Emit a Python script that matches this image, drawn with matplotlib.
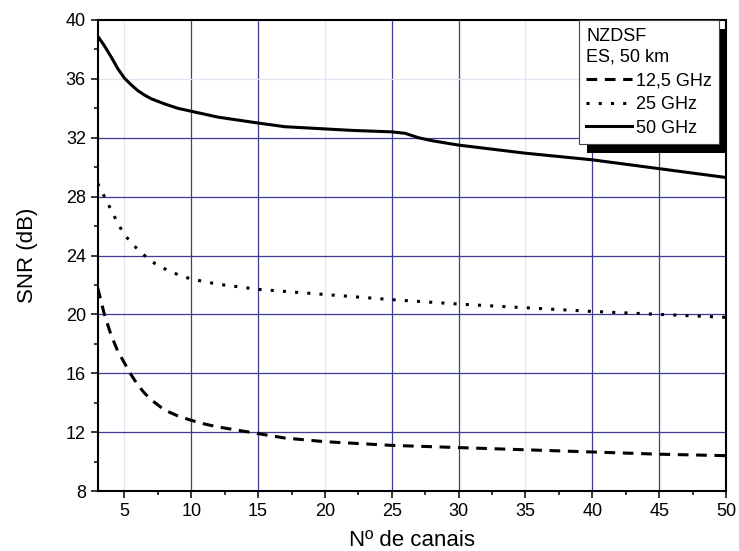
import matplotlib
matplotlib.use("Agg")
import matplotlib.pyplot as plt
import matplotlib.patheffects as pe
from matplotlib.ticker import MultipleLocator

plt.rcParams['font.family'] = ['Liberation Sans', 'DejaVu Sans']

# ---- data ----
x_12 = [3, 3.5, 4, 4.5, 5, 5.5, 6, 6.5, 7, 7.5, 8, 9, 10, 11, 12, 15, 17, 20, 22, 25,
        30, 35, 40, 45, 50]
snr_12 = [21.8, 20.0, 18.6, 17.5, 16.7, 15.9, 15.2, 14.65, 14.2, 13.85, 13.5, 13.1,
          12.8, 12.55, 12.35, 11.9, 11.6, 11.35, 11.25, 11.1, 10.95, 10.8, 10.65, 10.5, 10.4]

x_25 = [3, 3.5, 4, 4.5, 5, 6, 7, 8, 9, 10, 12, 15, 20, 25, 30, 35, 40, 45, 50]
snr_25 = [28.9, 28.0, 27.1, 26.2, 25.4, 24.4, 23.6, 23.1, 22.7, 22.4, 22.05, 21.7,
          21.35, 21.0, 20.7, 20.45, 20.2, 20.0, 19.8]

x_50 = [3, 3.5, 4, 4.5, 5, 5.5, 6, 6.5, 7, 8, 9, 10, 12, 15, 17, 20, 22, 25, 26, 27,
        28, 30, 35, 40, 45, 50]
snr_50 = [38.9, 38.25, 37.5, 36.7, 36.05, 35.6, 35.2, 34.9, 34.65, 34.3, 34.0, 33.8,
          33.4, 33.0, 32.75, 32.6, 32.5, 32.4, 32.3, 32.0, 31.8, 31.5, 30.95, 30.5,
          29.9, 29.3]

labels = ["12,5 GHz", "25 GHz", "50 GHz"]
legend_title = "NZDSF\nES, 50 km"
xlabel = "Nº de canais"
ylabel = "SNR (dB)"

fig = plt.figure(figsize=(7.39, 5.51), dpi=100)
ax = fig.add_axes([97.7 / 739, 60 / 551, (726 - 97.7) / 739, 471 / 551])

ax.plot(x_12, snr_12, color='black', lw=2.2, linestyle=(0, (3.5, 2.5)), label=labels[0], zorder=3)
ax.plot(x_25, snr_25, color='black', lw=2.2, linestyle=(0, (1, 3)), label=labels[1], zorder=3)
ax.plot(x_50, snr_50, color='black', lw=2.2, linestyle='-', label=labels[2], zorder=3)

ax.set_xlim(3, 50)
ax.set_ylim(8, 40)
ax.xaxis.set_major_locator(MultipleLocator(5))
ax.xaxis.set_minor_locator(MultipleLocator(2.5))
ax.yaxis.set_major_locator(MultipleLocator(4))
ax.yaxis.set_minor_locator(MultipleLocator(2))
ax.tick_params(which='major', direction='out', length=5, width=1.1, labelsize=13, colors='black')
ax.tick_params(which='minor', direction='out', length=3, width=1.1)
for s in ax.spines.values():
    s.set_linewidth(1.5)
    s.set_color('black')

ax.set_xlabel(xlabel, fontsize=16, labelpad=7)
ax.set_ylabel(ylabel, fontsize=16, labelpad=20)

# grid (rendering shows alternating strong / faint lines)
ax.grid(True, which='major', lw=0.9, zorder=0)
ax.set_axisbelow(True)
fig.canvas.draw()
faint_x = {5, 20, 35}
faint_y = {36, 40}
dark = '#3c3c96'
light = '#e4e4f4'
for tk in ax.xaxis.get_major_ticks():
    tk.gridline.set_color(light if round(tk.get_loc()) in faint_x else dark)
for tk in ax.yaxis.get_major_ticks():
    tk.gridline.set_color(light if round(tk.get_loc()) in faint_y else dark)

leg = ax.legend(title=legend_title, loc='upper right', bbox_to_anchor=(0.9888, 1.0),
                borderaxespad=0, fontsize=13, title_fontsize=13, alignment='left',
                frameon=True, fancybox=False, handlelength=2.5, handletextpad=0.22,
                labelspacing=0.37, borderpad=0.42)
leg.get_title().set_linespacing(1.3)
fr = leg.get_frame()
fr.set_edgecolor('#444444')
fr.set_linewidth(0.8)
fr.set_facecolor('white')
fr.set_alpha(1)
fr.set_path_effects([pe.SimplePatchShadow(offset=(6, -6.5), shadow_rgbFace='black', alpha=1.0),
                     pe.Normal()])
leg.set_zorder(5)

fig.savefig("out.png", dpi=100)
